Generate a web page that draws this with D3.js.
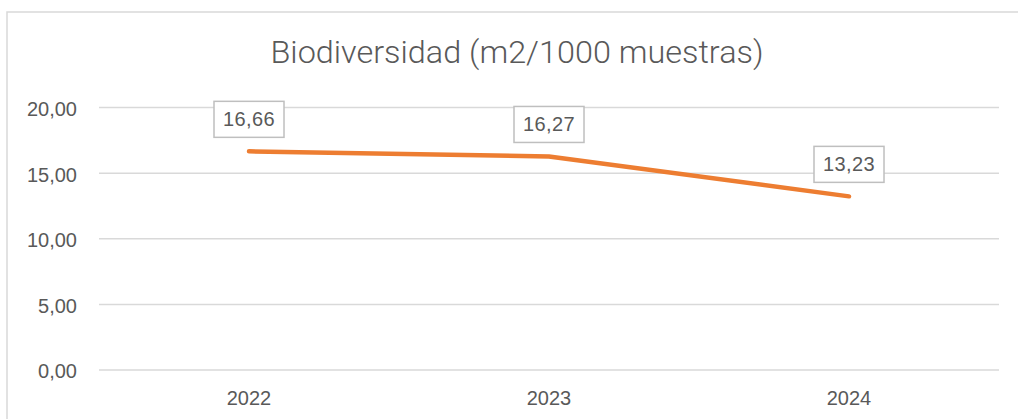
<!DOCTYPE html>
<html><head><meta charset="utf-8">
<script src="https://cdn.jsdelivr.net/npm/d3@7"></script>
<style>html,body{margin:0;padding:0;background:#fff;}svg{display:block;}</style>
</head><body>
<svg id="c" width="1018" height="419"></svg>
<script>
const categories = ["2022", "2023", "2024"];
const values = [16.66, 16.27, 13.23];
const yTicks = [0, 5, 10, 15, 20];
const title = "Biodiversidad (m2/1000 muestras)";

const svg = d3.select("#c");
const fmt = v => d3.format(".2f")(v).replace(".", ",");

// outer chart border
svg.append("rect").attr("x", 7).attr("y", 12).attr("width", 1030).attr("height", 430)
  .attr("fill", "#fff").attr("stroke", "#d9d9d9").attr("stroke-width", 1.5);

svg.append("text").attr("x", 517).attr("y", 63).attr("text-anchor", "middle")
  .attr("font-family", "Roboto,'Liberation Sans',Arial,sans-serif")
  .attr("font-weight", 300)
  .attr("font-size", 32).attr("fill", "#595959")
  .attr("textLength", 493).attr("lengthAdjust", "spacingAndGlyphs")
  .text(title);

const x = d3.scaleBand().domain(categories).range([99, 999]);
const y = d3.scaleLinear().domain([0, 20]).range([370, 107.5]);

const font = "'Liberation Sans',Arial,sans-serif";

// gridlines
svg.append("g").selectAll("line").data(yTicks).join("line")
  .attr("x1", 99).attr("x2", 999)
  .attr("y1", d => y(d)).attr("y2", d => y(d))
  .attr("stroke", "#d9d9d9").attr("stroke-width", 1.5);

// y axis labels
const yAxis = d3.axisLeft(y).tickValues(yTicks).tickFormat(fmt).tickSize(0).tickPadding(0);
const gy = svg.append("g").attr("transform", "translate(77,1.5)").call(yAxis);
gy.select(".domain").remove();
gy.selectAll("text").attr("font-family", font).attr("font-size", 20).attr("fill", "#595959");

// x axis labels
const xAxis = d3.axisBottom(x).tickSize(0).tickPadding(0);
const gx = svg.append("g").attr("transform", "translate(0,391)").call(xAxis);
gx.select(".domain").remove();
gx.selectAll("text").attr("font-family", font).attr("font-size", 20).attr("fill", "#595959");

// line
const line = d3.line().x((d, i) => x(categories[i]) + x.bandwidth() / 2).y(d => y(d));
svg.append("path").datum(values).attr("d", line)
  .attr("fill", "none").attr("stroke", "#ED7D31").attr("stroke-width", 4.5)
  .attr("stroke-linecap", "round").attr("stroke-linejoin", "round");

// data labels
const lbl = svg.append("g").selectAll("g").data(values).join("g")
  .attr("transform", (d, i) => `translate(${x(categories[i]) + x.bandwidth() / 2},${y(d) - 14})`);
lbl.append("rect").attr("x", -35).attr("y", -36).attr("width", 70).attr("height", 36)
  .attr("fill", "#fff").attr("stroke", "#bfbfbf").attr("stroke-width", 1.5);
lbl.append("text").attr("x", 0).attr("y", -11).attr("text-anchor", "middle")
  .attr("font-family", font).attr("font-size", 20).attr("fill", "#595959")
  .attr("letter-spacing", 0.4)
  .text(d => fmt(d));
</script>
</body></html>
